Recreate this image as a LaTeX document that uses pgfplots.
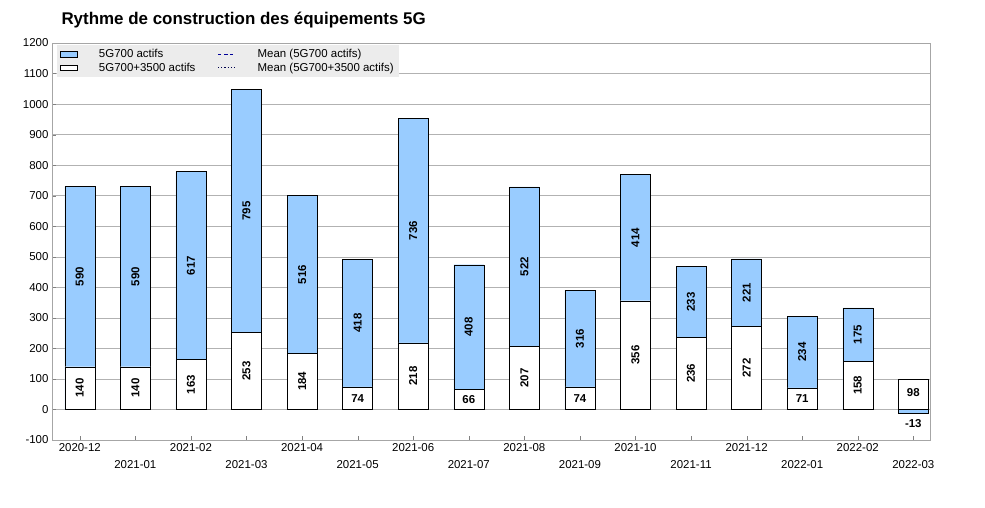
\documentclass[border=0pt]{standalone}
\usepackage{pgfplots}
\pgfplotsset{compat=1.18}
\usepackage{fontspec}
\setmainfont{Liberation Sans}
\definecolor{blu}{HTML}{99CCFF}
\begin{document}
\begin{tikzpicture}
\useasboundingbox (-52bp,-68bp) rectangle (933bp,440bp);
\node[anchor=west,font=\bfseries\fontsize{17}{20}\selectfont] at (6bp,420bp) {Rythme de construction des équipements 5G};
\begin{axis}[at={(0,0)},anchor=south west,scale only axis,width=878bp,height=397bp,
 xmin=-0.5,xmax=15.3,ymin=-100,ymax=1200,ytick distance=100,
 ymajorgrids,grid style={gray!60},axis line style={gray!70},
 xtick={0,...,15},
 xticklabels={2020-12,{\strut\\2021-01},2021-02,{\strut\\2021-03},2021-04,{\strut\\2021-05},2021-06,{\strut\\2021-07},2021-08,{\strut\\2021-09},2021-10,{\strut\\2021-11},2021-12,{\strut\\2022-01},2022-02,{\strut\\2022-03}},
 xticklabel style={align=center,font=\fontsize{11.5}{15}\selectfont},
 yticklabel style={font=\fontsize{11.5}{13}\selectfont},
 /pgf/number format/assume math mode=true,
 /pgf/number format/1000 sep={},
 tick style={gray},xtick pos=bottom,ytick pos=left,
 legend style={at={(0.005,0.995)},anchor=north west,fill=gray!15,draw=none,font=\fontsize{11.5}{14}\selectfont,legend columns=2,/tikz/column sep=20bp},
 legend cell align=left]
\addplot[ybar,bar width=30bp,fill=blu,draw=black,area legend] coordinates {(0,730)(1,730)(2,780)(3,1048)(4,700)(5,492)(6,954)(7,474)(8,729)(9,390)(10,770)(11,469)(12,493)(13,305)(14,333)(15,-13)};
\addlegendentry{5G700 actifs}
\addlegendimage{dashed,blue!60!black}
\addlegendentry{Mean (5G700 actifs)}
\addplot[ybar,bar width=30bp,fill=white,draw=black,area legend] coordinates {(0,140)(1,140)(2,163)(3,253)(4,184)(5,74)(6,218)(7,66)(8,207)(9,74)(10,356)(11,236)(12,272)(13,71)(14,158)(15,98)};
\addlegendentry{5G700+3500 actifs}
\addlegendimage{dotted,very thick,blue!30!black}
\addlegendentry{Mean (5G700+3500 actifs)}
\addplot[only marks,mark=none,forget plot,point meta=explicit symbolic,nodes near coords,
 every node near coord/.style={anchor=center,rotate=90,font=\bfseries\fontsize{11.5}{13}\selectfont}]
 coordinates {(0,435)[590](1,435)[590](2,471)[617](3,650)[795](4,442)[516](5,283)[418](6,586)[736](7,270)[408](8,468)[522](9,232)[316](10,563)[414](11,352)[233](12,382)[221](13,188)[234](14,245)[175]
 (0,70)[140](1,70)[140](2,81)[163](3,126)[253](4,92)[184](6,109)[218](8,103)[207](10,178)[356](11,118)[236](12,136)[272](14,79)[158]};
\addplot[only marks,mark=none,forget plot,point meta=explicit symbolic,nodes near coords,
 every node near coord/.style={anchor=center,font=\bfseries\fontsize{11.5}{13}\selectfont}]
 coordinates {(5,37)[74](7,33)[66](9,37)[74](13,36)[71](15,55)[98](15,-45)[-13]};
\end{axis}
\end{tikzpicture}
\end{document}
